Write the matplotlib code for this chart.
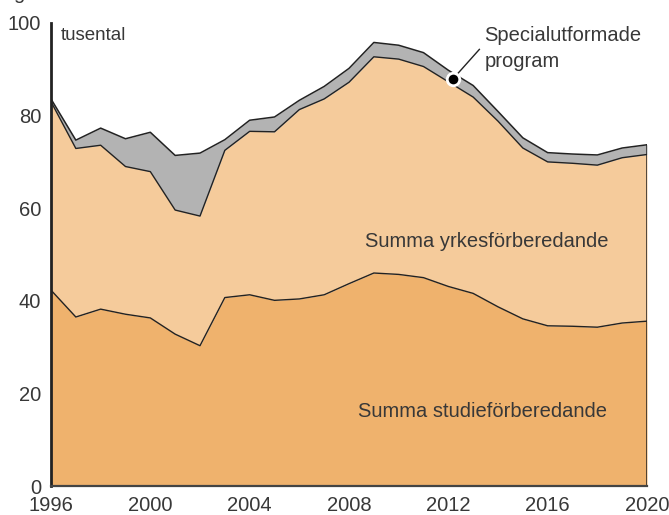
import numpy as np
import matplotlib.pyplot as plt

plt.rcParams['font.family'] = ['Liberation Sans', 'DejaVu Sans']

# --- Data (tusental) ---
years = np.arange(1996, 2021)
studie = [42.3, 36.5, 38.2, 37.1, 36.3, 32.8, 30.3, 40.7, 41.3, 40.1, 40.4, 41.3,
          43.7, 46.0, 45.7, 45.0, 43.1, 41.6, 38.7, 36.1, 34.6, 34.5, 34.3, 35.2, 35.6]
# cumulative: studie + yrkes
studie_yrkes = [83.0, 72.9, 73.6, 69.0, 67.9, 59.6, 58.3, 72.5, 76.6, 76.5, 81.3, 83.6,
                87.2, 92.7, 92.2, 90.6, 87.3, 84.0, 78.8, 73.0, 70.0, 69.7, 69.3, 70.9, 71.6]
# cumulative: total incl. specialutformade program
total = [83.6, 74.7, 77.3, 75.0, 76.4, 71.4, 71.9, 74.8, 79.0, 79.7, 83.3, 86.3,
         90.2, 95.8, 95.2, 93.6, 89.8, 86.5, 80.9, 75.2, 72.0, 71.7, 71.5, 73.0, 73.7]

c_studie = "#efb26d"
c_yrkes = "#f5cb9b"
c_special = "#b3b3b3"
c_line = "#222222"
c_text = "#383838"

fig = plt.figure(figsize=(6.69, 5.15), dpi=100)
ax = fig.add_axes([51 / 669, 29 / 515, 596 / 669, 463 / 515])

ax.fill_between(years, 0, studie, color=c_studie, lw=0)
ax.fill_between(years, studie, studie_yrkes, color=c_yrkes, lw=0)
ax.fill_between(years, studie_yrkes, total, color=c_special, lw=0)
ax.plot(years, studie, color=c_line, lw=1)
ax.plot(years, studie_yrkes, color=c_line, lw=1)
ax.plot(years, total, color=c_line, lw=1.1)
ax.plot([2020, 2020], [0, total[-1]], color=c_line, lw=1.1)

ax.set_xlim(1996, 2020)
ax.set_ylim(0, 100)
ax.set_xticks(np.arange(1996, 2021, 4))
ax.set_yticks(np.arange(0, 101, 20))
ax.tick_params(length=0, labelsize=14.5, colors=c_text)
ax.tick_params(axis='y', pad=7)
ax.tick_params(axis='x', pad=7)
for s in ['top', 'right']:
    ax.spines[s].set_visible(False)
ax.spines['left'].set_linewidth(2)
ax.spines['left'].set_color(c_line)
ax.spines['bottom'].set_linewidth(1.6)
ax.spines['bottom'].set_color("#444444")

ax.text(1996.4, 97.3, "tusental", fontsize=13.5, color=c_text, va='center', ha='left')
ax.text(2008.65, 52.7, "Summa yrkesförberedande", fontsize=14.5, color=c_text,
        ha='left', va='center')
ax.text(2008.35, 16.0, "Summa studieförberedande", fontsize=14.5, color=c_text,
        ha='left', va='center')

# annotation for specialutformade program
ax.plot([2012.2, 2013.25], [88.0, 94.3], color=c_line, lw=1)
ax.plot(2012.2, 88.0, 'o', ms=9, mfc='black', mec='white', mew=2)
ax.text(2013.45, 97.4, "Specialutformade", fontsize=14.5, color=c_text, va='center', ha='left')
ax.text(2013.45, 91.6, "program", fontsize=14.5, color=c_text, va='center', ha='left')

# cut-off title remnant at the top edge
fig.text(0.02, 1.0 + 1 / 515, "g", fontsize=14.5, color=c_text, va='baseline', ha='left')

fig.savefig("out.png", dpi=100)
